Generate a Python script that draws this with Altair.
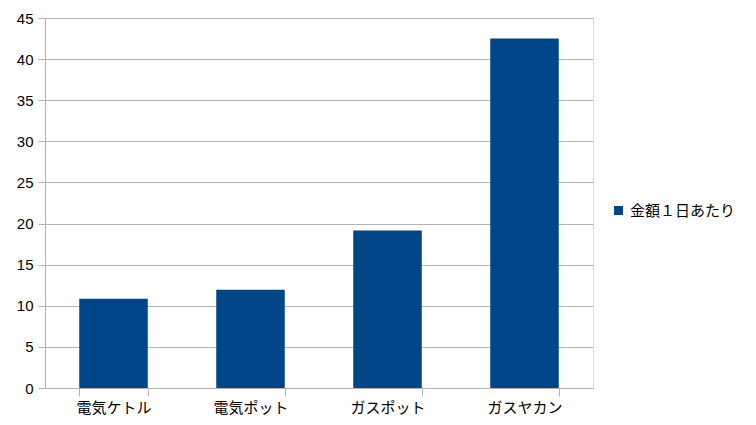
import altair as alt
import pandas as pd

categories = ["電気ケトル", "電気ポット", "ガスポット", "ガスヤカン"]
values = [10.85, 11.95, 19.15, 42.5]
series_name = "金額１日あたり"

df = pd.DataFrame({"item": categories, "value": values, "series": [series_name] * 4})

FONT = "Liberation Sans, Noto Sans CJK JP, sans-serif"
GRID = "#b3b3b3"

chart = alt.Chart(df).mark_bar(color="#004586").encode(
    x=alt.X("item:N", sort=categories, title=None,
            scale=alt.Scale(paddingInner=0.5, paddingOuter=0.25),
            axis=alt.Axis(labelAngle=0, tickBand="extent", tickSize=8, tickColor=GRID,
                          domainColor=GRID, labelFontSize=15, labelColor="#000000",
                          labelFont=FONT, labelPadding=4)),
    y=alt.Y("value:Q", title=None,
            scale=alt.Scale(domain=[0, 45], nice=False),
            axis=alt.Axis(values=list(range(0, 50, 5)), tickSize=7, tickColor=GRID,
                          domainColor=GRID, gridColor=GRID, labelFontSize=15,
                          labelColor="#000000", labelFont=FONT, labelPadding=5)),
    fill=alt.Fill("series:N", scale=alt.Scale(range=["#004586"]),
                  legend=alt.Legend(title=None, orient="none", legendX=566, legendY=185,
                                    symbolType="square", symbolSize=81, symbolStrokeWidth=0,
                                    labelFontSize=15, labelFont=FONT, labelColor="#000000",
                                    labelOffset=4, padding=0)),
).properties(
    width=548, height=370, autosize="none",
    padding={"left": 37, "top": 10, "right": 155, "bottom": 29},
).configure_view(stroke=GRID).configure(background="white")

chart.save("out.html", embed_options={"renderer": "svg", "actions": False})
